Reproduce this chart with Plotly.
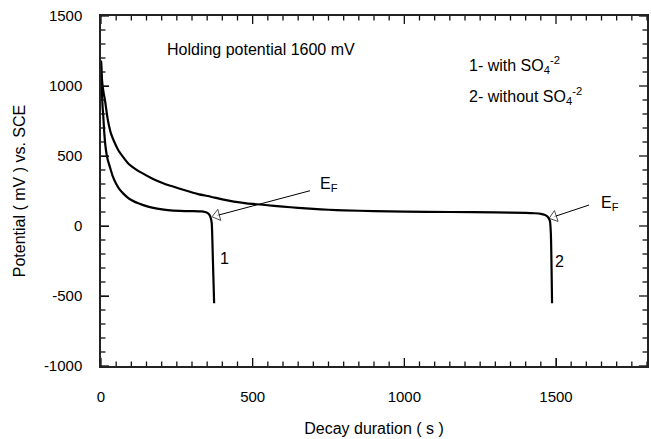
import plotly.graph_objects as go

# Open-circuit potential decay after holding at 1600 mV
t_with = [0, 2, 5, 7.6, 10.9, 16.3, 22, 29, 38, 49, 60, 73, 86, 100, 125, 155, 185,
          220, 260, 300, 330, 343, 352, 358, 362, 365, 369, 373]
v_with = [1180, 1020, 860, 781, 662, 543, 475, 424, 360, 305, 265, 233, 207, 186, 160,
          138, 124, 114, 108, 106, 104, 100, 92, 78, 55, 20, -250, -552]

t_without = [0, 2, 4.4, 8, 13, 20.7, 26, 32.7, 44, 56.7, 72, 89, 100, 115, 133, 170, 209,
             240, 274, 320, 362, 400, 438, 480, 541, 600, 650, 700, 750, 800, 900, 1000,
             1150, 1300, 1400, 1430, 1450, 1462, 1470, 1476, 1480, 1483, 1487]
v_without = [1180, 1090, 1019, 960, 900, 781, 720, 662, 600, 543, 495, 448, 428, 405, 381,
             338, 302, 280, 257, 228, 209, 190, 174, 162, 150, 138, 130, 122, 116, 112,
             106, 103, 100, 97, 94, 91, 87, 80, 70, 55, 35, -50, -552]

x_ticks = [0, 500, 1000, 1500]
y_ticks = [-1000, -500, 0, 500, 1000, 1500]
x_minor = list(range(0, 1801, 50))
y_minor = list(range(-1000, 1501, 100))

# E_F pointer arrows: (tail, head) in data units
ef_arrows = [((689, 252), (382, 75)), ((1609, 150), (1493, 66))]

FONT = "Liberation Sans, Arial, Helvetica, sans-serif"
W, H = 651, 439
M = dict(l=101, r=2, t=16, b=73)
plot_w = W - M["l"] - M["r"]
plot_h = H - M["t"] - M["b"]
MAJOR_LEN, MINOR_LEN = 8, 4.5

fig = go.Figure()
for tx, vy in [(t_with, v_with), (t_without, v_without)]:
    fig.add_trace(go.Scatter(x=tx, y=vy, mode="lines",
                             line=dict(color="black", width=2.2, shape="spline", smoothing=0.6),
                             hoverinfo="skip"))

for (x0, y0), (x1, y1) in ef_arrows:
    fig.add_trace(go.Scatter(
        x=[x0, x1], y=[y0, y1], mode="lines+markers",
        line=dict(color="black", width=1),
        marker=dict(symbol="triangle-up", size=[0, 10], angleref="previous",
                    color="white", line=dict(color="black", width=1)),
        hoverinfo="skip"))

# inward tick marks on all four sides (minor every 50 s / 100 mV, longer at labelled values)
tick_line = dict(color="#111", width=1.3)
for xv in x_minor:
    frac = (MAJOR_LEN if xv in x_ticks else MINOR_LEN) / plot_h
    for base, tip in [(0, frac), (1, 1 - frac)]:
        fig.add_shape(type="line", xref="x", yref="y domain", x0=xv, x1=xv,
                      y0=base, y1=tip, line=tick_line)
for yv in y_minor:
    frac = (MAJOR_LEN if yv in y_ticks else MINOR_LEN) / plot_w
    for base, tip in [(0, frac), (1, 1 - frac)]:
        fig.add_shape(type="line", xref="x domain", yref="y", y0=yv, y1=yv,
                      x0=base, x1=tip, line=tick_line)

ann = dict(showarrow=False, font=dict(family=FONT, size=16, color="black"))
fig.add_annotation(x=212, y=1264, xanchor="left", yanchor="middle",
                   text="Holding potential 1600 mV", **ann)
fig.add_annotation(x=1206, y=1150, xanchor="left", yanchor="middle",
                   text="1- with SO<sub>4</sub><sup>-2</sup>", **ann)
fig.add_annotation(x=1206, y=929, xanchor="left", yanchor="middle",
                   text="2- without SO<sub>4</sub><sup>-2</sup>", **ann)
fig.add_annotation(x=716, y=293, xanchor="left", yanchor="middle",
                   text="E<sub>F</sub>", **ann)
fig.add_annotation(x=1641, y=164, xanchor="left", yanchor="middle",
                   text="E<sub>F</sub>", **ann)
fig.add_annotation(x=407, y=-229, xanchor="center", yanchor="middle", text="1", **ann)
fig.add_annotation(x=1513, y=-257, xanchor="center", yanchor="middle", text="2", **ann)

axis_common = dict(showgrid=False, zeroline=False, showline=True, linecolor="#222",
                   linewidth=1.5, mirror=True, ticks="inside", ticklen=MAJOR_LEN,
                   tickwidth=1.3, tickcolor="#111",
                   tickfont=dict(family=FONT, size=15, color="black"))

fig.update_xaxes(range=[0, 1800], tickmode="array", tickvals=x_ticks,
                 ticktext=[str(v) for v in x_ticks], ticklabelstandoff=16,
                 title=dict(text="Decay duration ( s )", standoff=19,
                            font=dict(family=FONT, size=16, color="black")),
                 **axis_common)
fig.update_yaxes(range=[-1000, 1500], tickmode="array", tickvals=y_ticks,
                 ticktext=[str(v) for v in y_ticks], ticklabelstandoff=14,
                 title=dict(text="Potential ( mV ) vs. SCE", standoff=14,
                            font=dict(family=FONT, size=16, color="black")),
                 **axis_common)

fig.update_layout(width=W, height=H, showlegend=False, margin=M,
                  paper_bgcolor="white", plot_bgcolor="white")

fig.write_html("out.html")
